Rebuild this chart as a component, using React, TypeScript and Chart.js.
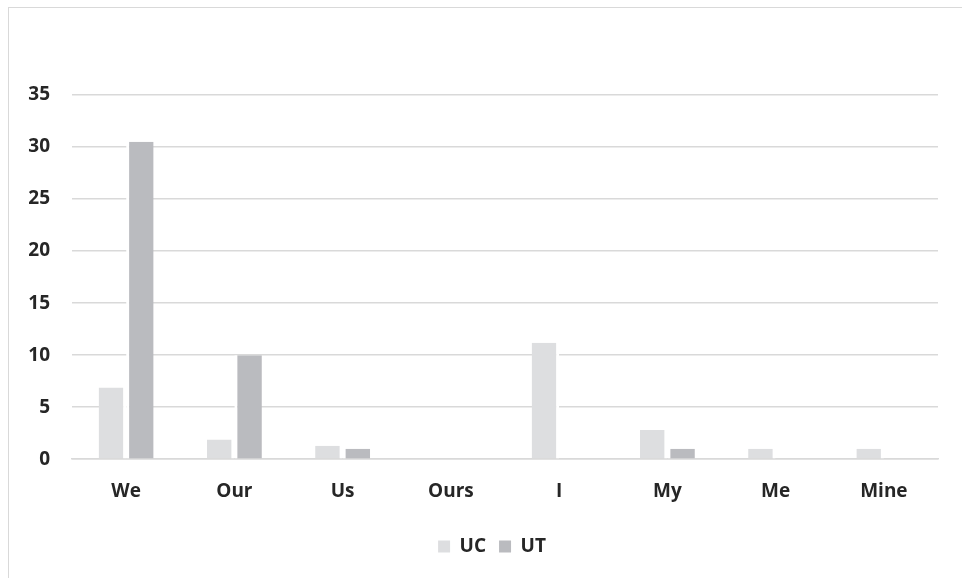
import React, { useEffect, useRef } from "react";
import { Chart, registerables } from "chart.js";

Chart.register(...registerables);

const categories = ["We", "Our", "Us", "Ours", "I", "My", "Me", "Mine"];
const ucValues = [6.9, 1.9, 1.3, 0, 11.2, 2.8, 1.0, 1.0];
const utValues = [30.5, 10.0, 1.0, 0, 0, 1.0, 0, 0];
const seriesNames = ["UC", "UT"];
const yMax = 35;
const yStep = 5;

export default function App() {
  const ref = useRef<HTMLCanvasElement | null>(null);
  useEffect(() => {
    document.body.style.margin = "0";
    document.body.style.overflow = "hidden";
    const font = { family: "'Open Sans', sans-serif", size: 19, weight: "bold" as const };
    const textColor = "#262626";
    const chart = new Chart(ref.current as HTMLCanvasElement, {
      type: "bar",
      data: {
        labels: categories,
        datasets: [
          {
            label: seriesNames[0],
            data: ucValues,
            backgroundColor: "#DDDEE0",
            borderColor: "#FFFFFF",
            borderWidth: { left: 0, right: 3, top: 0, bottom: 0 },
            borderSkipped: false,
            categoryPercentage: 0.508,
            barPercentage: 1,
          },
          {
            label: seriesNames[1],
            data: utValues,
            backgroundColor: "#BABBBF",
            borderColor: "#FFFFFF",
            borderWidth: { left: 3, right: 0, top: 0, bottom: 0 },
            borderSkipped: false,
            categoryPercentage: 0.508,
            barPercentage: 1,
          },
        ],
      },
      options: {
        animation: false,
        responsive: false,
        maintainAspectRatio: false,
        layout: { padding: { top: 87, right: 0, bottom: 12, left: 13 } },
        plugins: {
          tooltip: { enabled: false },
          legend: {
            position: "bottom",
            labels: {
              color: textColor,
              font,
              boxWidth: 12,
              boxHeight: 12,
              padding: 13,
              generateLabels: (c: any) =>
                c.data.datasets.map((d: any, i: number) => ({
                  text: d.label,
                  fillStyle: d.backgroundColor,
                  strokeStyle: d.backgroundColor,
                  lineWidth: 0,
                  datasetIndex: i,
                  hidden: false,
                  fontColor: textColor,
                })),
            },
          },
        },
        scales: {
          x: {
            grid: { display: false, drawTicks: false },
            border: { display: true, color: "#D9D9D9", width: 1.5 },
            ticks: { color: textColor, font, padding: 21 },
          },
          y: {
            min: 0,
            max: yMax,
            afterFit: (s: any) => {
              s.width = 50;
            },
            ticks: { stepSize: yStep, color: textColor, font, padding: 22 },
            grid: { color: "#D9D9D9", lineWidth: 1.5, drawTicks: false },
            border: { display: false },
          },
          yRight: {
            position: "right",
            display: true,
            min: 0,
            max: 1,
            grid: { display: false, drawTicks: false },
            border: { display: false },
            ticks: { display: false },
            afterFit: (s: any) => {
              s.width = 24;
            },
          },
        },
      },
    });
    return () => chart.destroy();
  }, []);
  return (
    <div
      style={{
        position: "fixed",
        left: 8,
        top: 7,
        width: 954,
        height: 571,
        borderLeft: "1px solid #D9D9D9",
        borderTop: "1px solid #D9D9D9",
        boxSizing: "border-box",
        background: "#fff",
      }}
    >
      <canvas ref={ref} width={953} height={570} style={{ display: "block" }} />
    </div>
  );
}
